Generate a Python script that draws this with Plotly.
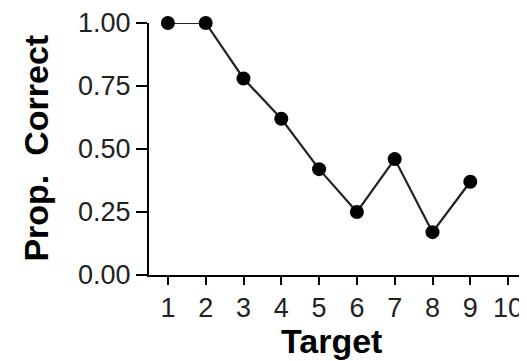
import plotly.graph_objects as go

targets = [1, 2, 3, 4, 5, 6, 7, 8, 9]
prop_correct = [1.00, 1.00, 0.78, 0.62, 0.42, 0.25, 0.46, 0.17, 0.37]
x_ticks = [1, 2, 3, 4, 5, 6, 7, 8, 9, 10]
y_ticks = [0.0, 0.25, 0.5, 0.75, 1.0]
y_tick_labels = ["0.00", "0.25", "0.50", "0.75", "1.00"]
x_title = "Target"
y_title = "Prop.  Correct"

fig = go.Figure()
fig.add_trace(go.Scatter(
    x=targets, y=prop_correct, mode="lines+markers",
    line=dict(color="#222222", width=2.2),
    marker=dict(color="black", size=14),
    cliponaxis=False, showlegend=False,
))

font_family = "Liberation Sans, Arial, sans-serif"
fig.update_layout(
    width=519, height=353,
    margin=dict(l=141, r=0, t=15, b=86),
    paper_bgcolor="white", plot_bgcolor="white",
    font=dict(family=font_family, color="#222222"),
    xaxis=dict(
        range=[0.5, 10.5], tickmode="array", tickvals=x_ticks,
        ticktext=[str(v) for v in x_ticks], automargin=False,
        showgrid=False, zeroline=False, showline=True, linecolor="black", linewidth=2,
        ticks="outside", ticklen=8, tickwidth=2, tickcolor="black",
        tickfont=dict(size=27, family=font_family, color="#222222"),
    ),
    yaxis=dict(
        range=[0, 1], tickmode="array", tickvals=y_ticks, ticktext=y_tick_labels,
        automargin=False,
        showgrid=False, zeroline=False, showline=True, linecolor="black", linewidth=2,
        ticks="outside", ticklen=11, tickwidth=2, tickcolor="black",
        tickfont=dict(size=27, family=font_family, color="#222222"),
    ),
    annotations=[
        dict(text="<b>" + x_title + "</b>", xref="paper", yref="paper",
             x=0.484, y=-0.262, xanchor="center", yanchor="middle", showarrow=False,
             font=dict(size=34, family=font_family, color="black")),
        dict(text="<b>" + y_title + "</b>", xref="paper", yref="paper",
             x=-0.30, y=0.504, xanchor="center", yanchor="middle", showarrow=False,
             textangle=-90,
             font=dict(size=34, family=font_family, color="black")),
    ],
)

fig.write_html("out.html")
